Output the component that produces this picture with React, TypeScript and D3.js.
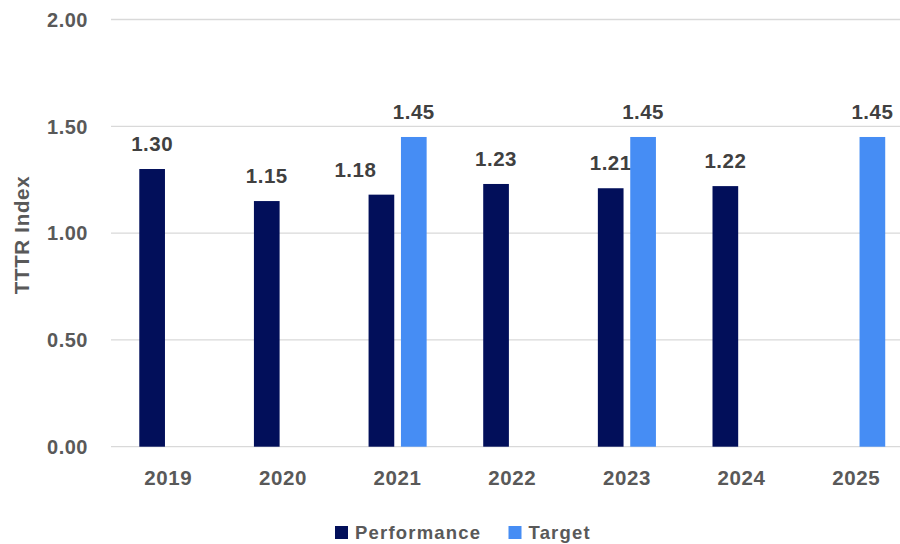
import React from "react";
import * as d3 from "d3";

const years = ["2019", "2020", "2021", "2022", "2023", "2024", "2025"];
const performance: (number | null)[] = [1.3, 1.15, 1.18, 1.23, 1.21, 1.22, null];
const target: (number | null)[] = [null, null, 1.45, null, 1.45, null, 1.45];
const yTicks = [0, 0.5, 1, 1.5, 2];
const seriesNames = ["Performance", "Target"];
const colors = ["#020F5A", "#468DF4"];
const yTitle = "TTTR Index";

const W = 900;
const H = 544;
const FONT = "'Liberation Sans', Arial, sans-serif";

export default function App() {
  const y = d3.scaleLinear().domain([0, 2]).range([446.7, 19.5]);
  const x0 = d3
    .scaleBand<string>()
    .domain(years)
    .range([111, 913.5])
    .paddingInner(0.4935)
    .paddingOuter(0.2467);
  const x1 = d3
    .scaleBand<string>()
    .domain(seriesNames)
    .range([0, x0.bandwidth()])
    .paddingInner(0.207)
    .paddingOuter(0);

  const series = [performance, target];
  const labelDx: Record<string, number> = { "Performance-2021": -26 };

  return (
    <svg
      width={W}
      height={H}
      style={{ position: "fixed", left: 0, top: 0, background: "#fff" }}
      fontFamily={FONT}
    >
      <rect x={0} y={0} width={W} height={H} fill="#fff" />
      {yTicks.map((t) => (
        <g key={t}>
          <line x1={111} x2={W} y1={y(t)} y2={y(t)} stroke="#D9D9D9" strokeWidth={1.3} />
          <text
            x={88}
            y={y(t)}
            dy="0.36em"
            textAnchor="end"
            fontSize={20}
            fontWeight={700}
            fill="#595959"
            letterSpacing={0.5}
          >
            {d3.format(".2f")(t)}
          </text>
        </g>
      ))}
      {series.map((vals, si) =>
        vals.map((v, i) => {
          if (v == null) return null;
          const xx = (x0(years[i]) as number) + (x1(seriesNames[si]) as number);
          const bw = x1.bandwidth();
          const key = `${seriesNames[si]}-${years[i]}`;
          return (
            <g key={key}>
              <rect x={xx} y={y(v)} width={bw} height={y(0) - y(v)} fill={colors[si]} />
              <text
                x={xx + bw / 2 + (labelDx[key] || 0)}
                y={y(v) - 18}
                textAnchor="middle"
                fontSize={20.5}
                fontWeight={700}
                fill="#404040"
                letterSpacing={0.5}
              >
                {d3.format(".2f")(v)}
              </text>
            </g>
          );
        })
      )}
      {years.map((yr) => (
        <text
          key={yr}
          x={(x0(yr) as number) + x0.bandwidth() / 2}
          y={485}
          textAnchor="middle"
          fontSize={20.5}
          fontWeight={700}
          fill="#595959"
          letterSpacing={0.6}
        >
          {yr}
        </text>
      ))}
      <text
        transform={`translate(29,235) rotate(-90)`}
        textAnchor="middle"
        fontSize={20.5}
        fontWeight={700}
        fill="#595959"
        letterSpacing={0.7}
      >
        {yTitle}
      </text>
      {seriesNames.map((name, i) => {
        const lx = [335, 508.5][i];
        return (
          <g key={name}>
            <rect x={lx} y={526} width={13} height={13} fill={colors[i]} />
            <text
              x={lx + 20}
              y={539}
              fontSize={18.5}
              fontWeight={700}
              fill="#595959"
              letterSpacing={1.2}
            >
              {name}
            </text>
          </g>
        );
      })}
    </svg>
  );
}
